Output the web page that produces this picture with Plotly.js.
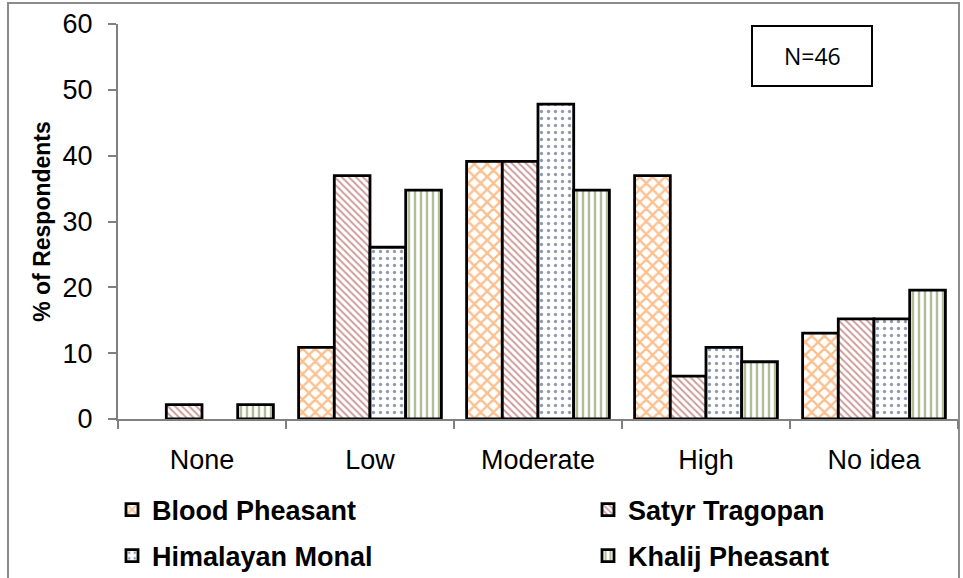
<!DOCTYPE html>
<html><head><meta charset="utf-8">
<script src="https://cdn.plot.ly/plotly-3.0.1.min.js"></script>
<style>body{margin:0;background:#fff}#chart{width:963px;height:578px}</style>
</head><body><div id="chart"></div>
<script>
const categories = ["None", "Low", "Moderate", "High", "No idea"];
const bloodPheasant = [0, 10.87, 39.13, 36.96, 13.04];
const satyrTragopan = [2.17, 36.96, 39.13, 6.52, 15.22];
const himalayanMonal = [0, 26.09, 47.83, 10.87, 15.22];
const khalijPheasant = [2.17, 34.78, 34.78, 8.70, 19.57];
const yTicks = [0, 10, 20, 30, 40, 50, 60];
const sampleLabel = "N=46";

const L = 118, R = 5, T = 24, B = 159, W = 963, H = 578;
const pw = W - L - R, ph = H - T - B;
const px = x => (x - L) / pw;
const py = y => (H - B - y) / ph;

function bar(name, y, shape, color, size, solidity, legend) {
  return {
    type: 'bar', name, x: categories,
    // zero-height bars draw no outline in the reference
    y: y.map(v => v === 0 ? null : v),
    legend,
    marker: {
      color: 'white',
      line: {color: '#000', width: 2.8},
      pattern: {shape, fgcolor: color, bgcolor: 'white', size, solidity, fillmode: 'overlay'}
    },
    hoverinfo: 'x+y+name'
  };
}

const data = [
  bar('Blood Pheasant', bloodPheasant, 'x', '#F58220', 9, 0.45, 'legend'),
  bar('Satyr Tragopan', satyrTragopan, '\\', '#9C3A38', 5, 0.4, 'legend2'),
  bar('Himalayan Monal', himalayanMonal, '.', '#1F3864', 7, 0.18, 'legend3'),
  bar('Khalij Pheasant', khalijPheasant, '|', '#5E7A30', 6, 0.4, 'legend4')
];

const legFont = {family: 'Liberation Sans, Arial, sans-serif', size: 27, color: '#000', weight: 'bold'};
function leg(xpix, ypix) {
  return {orientation: 'h', x: px(xpix), xanchor: 'left', y: py(ypix), yanchor: 'middle',
          font: legFont, bgcolor: 'rgba(0,0,0,0)', itemwidth: 30};
}

const layout = {
  width: W, height: H,
  margin: {l: L, r: R, t: T, b: B, autoexpand: false},
  paper_bgcolor: '#fff', plot_bgcolor: '#fff',
  barmode: 'group', bargap: 0.15, bargroupgap: 0,
  font: {family: 'Liberation Sans, Arial, sans-serif', color: '#000'},
  xaxis: {
    type: 'category', showgrid: false, zeroline: false,
    showline: true, linecolor: '#808080', linewidth: 2,
    ticks: 'outside', tickson: 'boundaries', ticklen: 8, tickcolor: '#808080', tickwidth: 2,
    tickfont: {size: 27, color: '#000'}, ticklabelstandoff: 16,
    range: [-0.5, 4.5]
  },
  yaxis: {
    range: [0, 60], tickvals: yTicks, showgrid: false, zeroline: false,
    showline: true, linecolor: '#808080', linewidth: 2,
    ticks: 'outside', ticklen: 8, tickcolor: '#808080', tickwidth: 2,
    tickfont: {size: 27, color: '#000'}, ticklabelstandoff: 10,
    title: {text: '% of Respondents', font: {size: 23, weight: 'bold', color: '#000'}, standoff: 6}
  },
  showlegend: true,
  legend: leg(112, 510),
  legend2: leg(588, 510),
  legend3: leg(112, 556),
  legend4: leg(588, 556),
  shapes: [
    {type: 'rect', xref: 'paper', yref: 'paper', x0: px(8), x1: px(959), y0: py(580), y1: py(3),
     line: {color: '#8c8c8c', width: 2}, fillcolor: 'rgba(0,0,0,0)', layer: 'below'},
    {type: 'rect', xref: 'paper', yref: 'paper', x0: px(752), x1: px(872), y0: py(86), y1: py(26),
     line: {color: '#000', width: 2}, fillcolor: '#fff'}
  ],
  annotations: [
    {xref: 'paper', yref: 'paper', x: px(812), y: py(56), text: sampleLabel, showarrow: false,
     xanchor: 'center', yanchor: 'middle', font: {family: 'Open Sans, Liberation Sans, sans-serif', size: 23, color: '#000'}}
  ]
};

Plotly.newPlot('chart', data, layout, {displayModeBar: false, staticPlot: true});
</script></body></html>
